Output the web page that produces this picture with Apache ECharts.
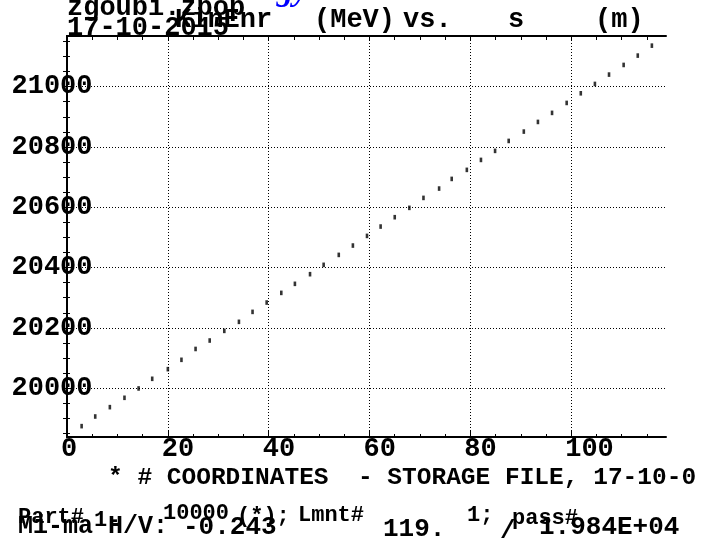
<!DOCTYPE html>
<html>
<head>
<meta charset="utf-8">
<script src="https://cdn.jsdelivr.net/npm/echarts@6/dist/echarts.min.js"></script>
<style>
  html, body { margin: 0; padding: 0; background: #fff; }
  #chart { width: 702px; height: 550px; }
</style>
</head>
<body>
<div id="chart"></div>
<script>
// Kinetic energy (MeV) of the tracked particle against path length s (m)
const sValues = [2.9, 5.6, 8.5, 11.4, 14.2, 16.9, 20.0, 22.7, 25.5, 28.3, 31.2, 34.1, 36.8, 39.6,
  42.5, 45.2, 48.2, 50.9, 53.9, 56.7, 59.5, 62.2, 65.0, 67.9, 70.7, 73.8, 76.3, 79.3, 82.1,
  84.9, 87.6, 90.6, 93.4, 96.2, 99.1, 101.9, 104.7, 107.5, 110.4, 113.2, 116.0];
const energyValues = [19874, 19906, 19937, 19968, 19999, 20031, 20063, 20094, 20130, 20158,
  20190, 20220, 20253, 20284, 20316, 20346, 20378, 20409, 20442, 20473, 20505, 20536, 20567,
  20598, 20631, 20662, 20694, 20724, 20757, 20787, 20820, 20851, 20883, 20913, 20946, 20978,
  21009, 21040, 21072, 21103, 21136];

// Axis ranges and ticks
const sRange = [0, 118.8];
const energyRange = [19838, 21168];
const sMajorTicks = [0, 20, 40, 60, 80, 100];
const sMinorTicks = [5, 10, 15, 25, 30, 35, 45, 50, 55, 65, 70, 75, 85, 90, 95, 105, 110, 115];
const sAllTicks = [0, 5, 10, 15, 20, 25, 30, 35, 40, 45, 50, 55, 60, 65, 70, 75, 80, 85, 90, 95, 100, 105, 110, 115];
const energyMajorTicks = [20000, 20200, 20400, 20600, 20800, 21000];
const energyMinorTicks = [19850, 19900, 19950, 20050, 20100, 20150, 20250, 20300, 20350, 20450,
  20500, 20550, 20650, 20700, 20750, 20850, 20900, 20950, 21050, 21100, 21150];
const energyAllTicks = [19850, 19900, 19950, 20000, 20050, 20100, 20150, 20200, 20250, 20300, 20350,
  20400, 20450, 20500, 20550, 20600, 20650, 20700, 20750, 20800, 20850, 20900, 20950, 21000,
  21050, 21100, 21150];

const MONO = 'Liberation Mono';
const ink = '#000';

function label(text, left, top, size, extra) {
  return Object.assign({
    text: text, left: left, top: top, padding: 0,
    textStyle: { fontFamily: MONO, fontWeight: 'bold', fontSize: size, color: ink }
  }, extra || {});
}

const titles = [
  label('zgoubi.zpop', 67, -5, 27),
  label('17-10-2015', 67, 15, 27),
  label('KinEnr', 175, 7, 27),
  label('(MeV)', 314, 7, 27),
  label('vs.', 403, 7, 27),
  label('s', 508, 7, 27),
  label('(m)', 595, 7, 27),
  {
    text: 'Energy', left: 209, top: -25.5, padding: 0,
    textStyle: { fontFamily: 'Liberation Serif', fontWeight: 'bold', fontStyle: 'italic', fontSize: 33, color: '#0000ff' }
  },
  label('* # COORDINATES  - STORAGE FILE, 17-10-0', 108, 465, 24.5),
  label('Part#', 18, 506, 22),
  label('1-', 94, 509, 22),
  label('10000', 163, 502, 22),
  label('(*);', 237, 505, 22),
  label('Lmnt#', 298, 504, 22),
  label('1;', 467, 504, 22),
  label('pass#', 512, 507, 22),
  label('Mi-ma H/V:', 18, 514, 25),
  label('-0.243', 183, 514, 26),
  label('119.', 383, 516, 26),
  label('/', 500, 518, 26),
  label('1.984E+04', 539, 514, 26)
];

const frameLine = { show: true, lineStyle: { color: ink, width: 2 } };
const tickLabelStyle = { fontFamily: MONO, fontWeight: 'bold', fontSize: 27, color: ink };
const plain = v => String(v);

const option = {
  animation: false,
  backgroundColor: '#fff',
  title: titles,
  grid: { left: 67, top: 36, width: 599, height: 401, containLabel: false },
  xAxis: [
    {
      type: 'value', position: 'bottom', min: sRange[0], max: sRange[1],
      axisLine: frameLine,
      axisTick: { show: true, inside: true, length: 6, customValues: sMajorTicks, lineStyle: { color: ink, width: 1 } },
      axisLabel: Object.assign({ customValues: sMajorTicks, formatter: plain, align: 'left', verticalAlign: 'middle',
        margin: 12, padding: [0, 0, 0, -6] }, tickLabelStyle),
      splitLine: { show: false }
    },
    {
      type: 'value', position: 'bottom', min: sRange[0], max: sRange[1],
      axisLine: { show: false },
      axisTick: { show: true, inside: true, length: 3, customValues: sMinorTicks, lineStyle: { color: ink, width: 1 } },
      axisLabel: { show: false },
      splitLine: { show: false }
    },
    {
      type: 'value', position: 'top', min: sRange[0], max: sRange[1],
      axisLine: frameLine,
      axisTick: { show: true, inside: true, length: 4, customValues: sAllTicks, lineStyle: { color: ink, width: 1 } },
      axisLabel: { show: false },
      splitLine: { show: false }
    }
  ],
  yAxis: [
    {
      type: 'value', position: 'left', min: energyRange[0], max: energyRange[1],
      axisLine: frameLine,
      axisTick: { show: true, inside: true, length: 6, customValues: energyMajorTicks, lineStyle: { color: ink, width: 1 } },
      axisLabel: Object.assign({ customValues: energyMajorTicks, formatter: plain, align: 'left', margin: 55.5 }, tickLabelStyle),
      splitLine: { show: false }
    },
    {
      type: 'value', position: 'left', min: energyRange[0], max: energyRange[1],
      axisLine: { show: false },
      axisTick: { show: true, inside: true, length: 3, customValues: energyMinorTicks, lineStyle: { color: ink, width: 1 } },
      axisLabel: { show: false },
      splitLine: { show: false }
    },
    {
      type: 'value', position: 'right', min: energyRange[0], max: energyRange[1],
      axisLine: frameLine,
      axisTick: { show: true, inside: true, length: 4, customValues: energyAllTicks, lineStyle: { color: ink, width: 1 } },
      axisLabel: { show: false },
      splitLine: { show: false }
    }
  ],
  series: [
    {
      type: 'scatter',
      xAxisIndex: 0,
      yAxisIndex: 0,
      data: sValues.map((s, i) => [s, energyValues[i]]),
      symbol: 'rect',
      symbolSize: [2.6, 4.6],
      itemStyle: { color: ink },
      z: 5,
      markLine: {
        silent: true,
        symbol: 'none',
        label: { show: false },
        lineStyle: { color: ink, width: 1, type: [1, 2] },
        data: energyMajorTicks.map(v => ({ yAxis: v }))
          .concat(sMajorTicks.filter(v => v > 0).map(v => ({ xAxis: v })))
      }
    }
  ]
};

const chart = echarts.init(document.getElementById('chart'), null, { renderer: 'canvas' });
chart.setOption(option);
</script>
</body>
</html>
